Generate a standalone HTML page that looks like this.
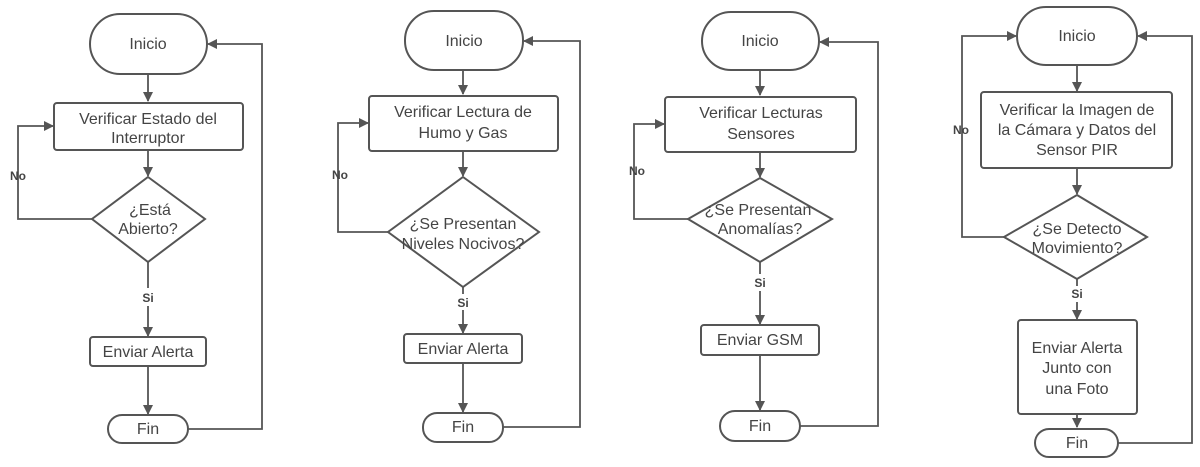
<!DOCTYPE html>
<html><head><meta charset="utf-8"><style>
html,body{margin:0;padding:0;background:#fff;}
svg{display:block;}
text{font-family:"Liberation Sans",sans-serif;font-size:16px;fill:#444;text-anchor:middle;}
text.b{font-weight:bold;font-size:12px;}
.s{fill:#fff;stroke:#555;stroke-width:2;}
.l{fill:none;stroke:#555;stroke-width:1.8;}
</style></head><body>
<svg width="1200" height="467" viewBox="0 0 1200 467" xmlns="http://www.w3.org/2000/svg">
<defs><marker id="a" markerWidth="10" markerHeight="10" refX="9" refY="5" orient="auto" markerUnits="userSpaceOnUse"><path d="M0,0 L10,5 L0,10 z" fill="#555"/></marker></defs>

<!-- Chart 1 -->
<path class="l" d="M148,74 V101" marker-end="url(#a)"/>
<path class="l" d="M148,150 V176" marker-end="url(#a)"/>
<path class="l" d="M92,219 H18 V126 H53" marker-end="url(#a)"/>
<path class="l" d="M148,262 V288 M148,306 V336" marker-end="url(#a)"/>
<path class="l" d="M148,366 V414" marker-end="url(#a)"/>
<path class="l" d="M188,429 H262 V44 H208" marker-end="url(#a)"/>
<rect class="s" x="90" y="14" width="117" height="60" rx="30"/>
<text x="148" y="49">Inicio</text>
<rect class="s" x="54" y="103" width="189" height="47" rx="3"/>
<text x="148" y="124">Verificar Estado del</text>
<text x="148" y="143">Interruptor</text>
<polygon class="s" points="148,177 205,219 148,262 92,219"/>
<text x="150" y="215">¿Está</text>
<text x="148" y="234">Abierto?</text>
<text class="b" x="148" y="302">Si</text>
<text class="b" x="18" y="180">No</text>
<rect class="s" x="90" y="337" width="116" height="29" rx="3"/>
<text x="148" y="357">Enviar Alerta</text>
<rect class="s" x="108" y="415" width="80" height="28" rx="14"/>
<text x="148" y="434">Fin</text>

<!-- Chart 2 -->
<path class="l" d="M463,70 V94" marker-end="url(#a)"/>
<path class="l" d="M463,151 V176" marker-end="url(#a)"/>
<path class="l" d="M388,232 H338 V123 H368" marker-end="url(#a)"/>
<path class="l" d="M463,287 V294 M463,310 V333" marker-end="url(#a)"/>
<path class="l" d="M463,363 V412" marker-end="url(#a)"/>
<path class="l" d="M503,427 H580 V41 H524" marker-end="url(#a)"/>
<rect class="s" x="405" y="11" width="118" height="59" rx="29"/>
<text x="464" y="46">Inicio</text>
<rect class="s" x="369" y="96" width="189" height="55" rx="3"/>
<text x="463" y="117">Verificar Lectura de</text>
<text x="463" y="138">Humo y Gas</text>
<polygon class="s" points="463,177 539,232 463,287 388,232"/>
<text x="463" y="229">¿Se Presentan</text>
<text x="463" y="249">Niveles Nocivos?</text>
<text class="b" x="463" y="307">Si</text>
<text class="b" x="340" y="179">No</text>
<rect class="s" x="404" y="334" width="118" height="29" rx="3"/>
<text x="463" y="354">Enviar Alerta</text>
<rect class="s" x="423" y="413" width="80" height="29" rx="14"/>
<text x="463" y="432">Fin</text>

<!-- Chart 3 -->
<path class="l" d="M760,70 V95" marker-end="url(#a)"/>
<path class="l" d="M760,152 V177" marker-end="url(#a)"/>
<path class="l" d="M688,219 H634 V124 H664" marker-end="url(#a)"/>
<path class="l" d="M760,262 V274 M760,291 V324" marker-end="url(#a)"/>
<path class="l" d="M760,355 V410" marker-end="url(#a)"/>
<path class="l" d="M800,426 H878 V42 H820" marker-end="url(#a)"/>
<rect class="s" x="702" y="12" width="117" height="58" rx="29"/>
<text x="760" y="46">Inicio</text>
<rect class="s" x="665" y="97" width="191" height="55" rx="3"/>
<text x="761" y="118">Verificar Lecturas</text>
<text x="761" y="139">Sensores</text>
<polygon class="s" points="760,178 832,219 760,262 688,219"/>
<text x="758" y="215">¿Se Presentan</text>
<text x="760" y="234">Anomalías?</text>
<text class="b" x="760" y="287">Si</text>
<text class="b" x="637" y="175">No</text>
<rect class="s" x="701" y="325" width="118" height="30" rx="3"/>
<text x="760" y="345">Enviar GSM</text>
<rect class="s" x="720" y="411" width="80" height="30" rx="15"/>
<text x="760" y="431">Fin</text>

<!-- Chart 4 -->
<path class="l" d="M1077,65 V91" marker-end="url(#a)"/>
<path class="l" d="M1077,168 V194" marker-end="url(#a)"/>
<path class="l" d="M1004,237 H962 V36 H1016" marker-end="url(#a)"/>
<path class="l" d="M1077,279 V286 M1077,302 V319" marker-end="url(#a)"/>
<path class="l" d="M1077,414 V427" marker-end="url(#a)"/>
<path class="l" d="M1118,443 H1192 V36 H1138" marker-end="url(#a)"/>
<rect class="s" x="1017" y="7" width="120" height="58" rx="29"/>
<text x="1077" y="41">Inicio</text>
<rect class="s" x="981" y="92" width="191" height="76" rx="3"/>
<text x="1077" y="115">Verificar la Imagen de</text>
<text x="1077" y="135">la Cámara y Datos del</text>
<text x="1077" y="155">Sensor PIR</text>
<polygon class="s" points="1077,195 1147,237 1077,279 1004,237"/>
<text x="1077" y="234">¿Se Detecto</text>
<text x="1077" y="253">Movimiento?</text>
<text class="b" x="1077" y="298">Si</text>
<text class="b" x="961" y="134">No</text>
<rect class="s" x="1018" y="320" width="119" height="94" rx="3"/>
<text x="1077" y="353">Enviar Alerta</text>
<text x="1077" y="373">Junto con</text>
<text x="1077" y="394">una Foto</text>
<rect class="s" x="1035" y="429" width="83" height="28" rx="14"/>
<text x="1077" y="448">Fin</text>
</svg>
</body></html>
